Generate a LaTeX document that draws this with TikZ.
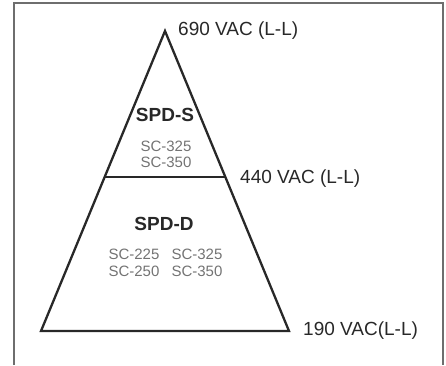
\documentclass[tikz,border=0pt]{standalone}
\usepackage{fontspec}
\setmainfont{Liberation Sans}
\usepackage{tikz}
\usetikzlibrary{calc}
\definecolor{framegray}{RGB}{110,110,110}
\definecolor{inkdark}{RGB}{40,40,40}
\definecolor{modelgray}{RGB}{115,115,115}

\begin{document}
\begin{tikzpicture}[
    x=1pt, y=-1pt,
    level/.style={anchor=west, inner sep=0pt, text=inkdark,
                  font=\fontsize{19}{21}\selectfont},
    family/.style={inner sep=0pt, text=inkdark,
                   font=\fontsize{19}{21}\selectfont\bfseries},
    model/.style={inner sep=0pt, text=modelgray,
                  font=\fontsize{15}{17}\selectfont}
]
\useasboundingbox (0,0) rectangle (446,365);

% Frame (open at the bottom)
\draw[framegray, line width=1.3pt] (14,365) -- (14,3) -- (443,3) -- (443,365);

% Pyramid corners
\coordinate (apex) at (165,31);
\coordinate (baseL) at (41,331);
\coordinate (baseR) at (289,331);
\coordinate (midL) at ($(apex)!0.487!(baseL)$);
\coordinate (midR) at ($(apex)!0.487!(baseR)$);

\draw[inkdark, line width=2.3pt, line join=miter] (apex) -- (baseR) -- (baseL) -- cycle;
\draw[inkdark, line width=2.3pt] (midL) -- (midR);

% Voltage levels
\node[level] (v690) at (178,31) {690 VAC (L-L)};
\node[level] (v440) at (240,179) {440 VAC (L-L)};
\node[level] (v190) at (303,331) {190 VAC(L-L)};

% Upper tier
\node[family] (spds) at (165,115) {SPD-S};
\node[model] (s325) at (166,146) {SC-325};
\node[model] (s350) at (166,162) {SC-350};

% Lower tier
\node[family] (spdd) at (164,224) {SPD-D};
\node[model] (d225) at (134,254) {SC-225};
\node[model] (d250) at (134,271) {SC-250};
\node[model] (d325) at (197,254) {SC-325};
\node[model] (d350) at (197,271) {SC-350};

\end{tikzpicture}
\end{document}
